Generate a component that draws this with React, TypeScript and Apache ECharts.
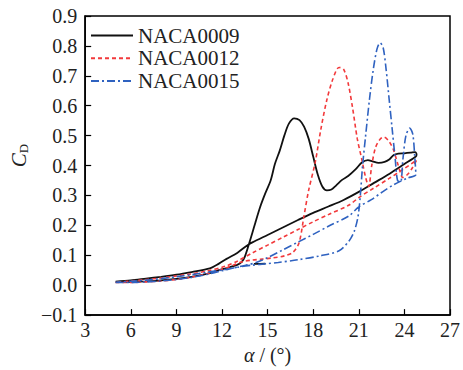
import React, { useEffect, useRef } from "react";
import * as echarts from "echarts";

// NACA0009 loop (angle of attack, drag coefficient)
const naca0009Alpha = [5.0, 6.0, 7.0, 8.0, 9.0, 10.0, 11.0, 11.8, 12.5, 13.0, 13.3, 13.5, 13.7, 14.0, 14.2, 14.5, 14.84, 15.2, 15.48, 15.8, 16.1, 16.4, 16.75, 17.1, 17.4, 17.7, 18.0, 18.3, 18.6, 18.9, 19.2, 19.5, 19.9, 20.3, 20.8, 21.2, 21.6, 21.9, 22.3, 22.7, 23.0, 23.3, 23.6, 24.0, 24.4, 24.7, 24.8, 24.75, 24.0, 23.0, 22.0, 21.0, 20.0, 19.0, 18.0, 17.0, 16.0, 15.0, 14.0, 13.66, 13.0, 12.3, 11.8, 11.2, 10.0, 9.0, 8.0, 7.0, 6.0, 5.0];
const naca0009Cd = [0.010, 0.011, 0.013, 0.016, 0.021, 0.028, 0.038, 0.050, 0.060, 0.068, 0.078, 0.095, 0.125, 0.175, 0.210, 0.260, 0.306, 0.350, 0.405, 0.450, 0.500, 0.540, 0.558, 0.552, 0.530, 0.490, 0.430, 0.370, 0.330, 0.317, 0.320, 0.333, 0.352, 0.365, 0.388, 0.410, 0.418, 0.414, 0.409, 0.412, 0.420, 0.435, 0.440, 0.441, 0.443, 0.445, 0.437, 0.430, 0.405, 0.372, 0.342, 0.312, 0.285, 0.263, 0.242, 0.218, 0.193, 0.168, 0.143, 0.133, 0.108, 0.088, 0.072, 0.056, 0.044, 0.035, 0.028, 0.022, 0.016, 0.012];
// short opening segment of the NACA0009 record
const naca0009StartAlpha = [14.85, 14.5, 14.1];
const naca0009StartCd = [0.072, 0.071, 0.071];

// NACA0012 loop
const naca0012Alpha = [5.0, 6.0, 7.0, 8.0, 9.0, 10.0, 11.0, 12.0, 12.8, 13.3, 14.0, 14.6, 15.3, 16.1, 16.65, 17.07, 17.39, 17.7, 18.13, 18.5, 18.9, 19.3, 19.7, 20.0, 20.3, 20.6, 20.9, 21.2, 21.45, 21.65, 21.85, 22.1, 22.4, 22.65, 23.0, 23.3, 23.6, 23.9, 24.2, 24.5, 24.8, 24.0, 23.0, 22.0, 21.0, 20.36, 19.0, 18.0, 17.0, 16.0, 15.0, 14.0, 13.0, 12.2, 11.0, 10.0, 9.0, 8.0, 7.0, 6.0, 5.0];
const naca0012Cd = [0.009, 0.009, 0.011, 0.014, 0.019, 0.027, 0.038, 0.053, 0.068, 0.078, 0.084, 0.087, 0.091, 0.098, 0.109, 0.142, 0.230, 0.317, 0.410, 0.520, 0.620, 0.690, 0.728, 0.722, 0.675, 0.590, 0.490, 0.420, 0.360, 0.330, 0.400, 0.460, 0.488, 0.495, 0.480, 0.450, 0.400, 0.360, 0.370, 0.390, 0.418, 0.390, 0.357, 0.325, 0.293, 0.268, 0.236, 0.212, 0.186, 0.160, 0.134, 0.108, 0.080, 0.063, 0.047, 0.038, 0.031, 0.024, 0.019, 0.014, 0.010];

// NACA0015 loop
const naca0015Alpha = [5.0, 6.0, 7.0, 8.0, 9.0, 10.0, 11.0, 12.0, 13.0, 14.0, 15.0, 15.7, 17.0, 18.45, 19.7, 20.36, 20.7, 20.95, 21.1, 21.25, 21.45, 21.7, 21.95, 22.2, 22.4, 22.6, 22.8, 23.0, 23.2, 23.4, 23.55, 23.75, 23.9, 24.1, 24.35, 24.55, 24.68, 24.75, 24.2, 23.3, 22.5, 21.8, 21.0, 20.36, 19.0, 18.0, 17.0, 16.0, 15.0, 14.2, 13.5, 12.5, 11.0, 10.0, 9.0, 8.0, 7.0, 6.0, 5.0];
const naca0015Cd = [0.009, 0.009, 0.011, 0.014, 0.019, 0.026, 0.036, 0.048, 0.060, 0.067, 0.072, 0.076, 0.085, 0.098, 0.115, 0.148, 0.180, 0.230, 0.300, 0.400, 0.500, 0.620, 0.720, 0.790, 0.810, 0.795, 0.720, 0.620, 0.520, 0.420, 0.350, 0.345, 0.420, 0.500, 0.525, 0.505, 0.430, 0.370, 0.358, 0.336, 0.310, 0.285, 0.262, 0.232, 0.197, 0.170, 0.144, 0.118, 0.092, 0.075, 0.066, 0.055, 0.043, 0.035, 0.028, 0.022, 0.017, 0.013, 0.010];

const seriesNames = ["NACA0009", "NACA0012", "NACA0015"];

const pairs = (a: number[], c: number[]) => a.map((x, i) => [x, c[i]]);

const FONT = "'Liberation Serif', 'Times New Roman', serif";

export default function App() {
  const ref = useRef<HTMLDivElement>(null);
  useEffect(() => {
    if (!ref.current) return;
    const chart = echarts.init(ref.current, undefined, { renderer: "svg" });
    const black = { color: "#111111", width: 1.8, type: "solid" as const };
    const red = { color: "#f2393b", width: 1.6, type: [4, 3] };
    const blue = { color: "#2f62c0", width: 1.6, type: [8, 3, 2, 3] };
    chart.setOption({
      animation: false,
      grid: {
        left: 77,
        right: 8,
        top: 16,
        bottom: 50,
        show: true,
        borderColor: "#000",
        borderWidth: 1.5,
        backgroundColor: "transparent",
      },
      legend: {
        data: seriesNames,
        orient: "vertical",
        left: 85,
        top: 20,
        itemWidth: 42,
        itemHeight: 14,
        itemGap: 1.7,
        itemStyle: { opacity: 0 },
        textStyle: { fontFamily: FONT, fontSize: 21, lineHeight: 20, color: "#222" },
      },
      xAxis: {
        type: "value",
        min: 3,
        max: 27,
        interval: 3,
        axisLine: { onZero: false, lineStyle: { color: "#000", width: 1.5 } },
        axisTick: { inside: true, length: 6, lineStyle: { color: "#000", width: 1.2 } },
        axisLabel: { fontFamily: FONT, fontSize: 20, color: "#222", margin: 5 },
        splitLine: { show: false },
        name: "{i|α} / (°)",
        nameLocation: "middle",
        nameGap: 28,
        nameTextStyle: {
          fontFamily: FONT,
          fontSize: 20,
          color: "#222",
          rich: { i: { fontFamily: FONT, fontSize: 20, fontStyle: "italic", color: "#222" } },
        },
      },
      yAxis: {
        type: "value",
        min: -0.1,
        max: 0.9,
        interval: 0.1,
        axisLine: { show: true, onZero: false, lineStyle: { color: "#000", width: 1.5 } },
        axisTick: { show: true, inside: true, length: 6, lineStyle: { color: "#000", width: 1.2 } },
        axisLabel: {
          fontFamily: FONT,
          fontSize: 20,
          color: "#222",
          margin: 8,
          formatter: (v: number) => v.toFixed(1).replace("-", "\u2212"),
        },
        splitLine: { show: false },
        name: "{c|C}{d|D}",
        nameLocation: "middle",
        nameGap: 50,
        nameRotate: 90,
        nameTextStyle: {
          padding: [0, 0, 0, 20],
          rich: {
            c: { fontFamily: FONT, fontSize: 21, fontStyle: "italic", color: "#222" },
            d: { fontFamily: FONT, fontSize: 13, color: "#222", padding: [10, 0, 0, 0] },
          },
        },
      },
      series: [
        {
          name: "NACA0009",
          type: "line",
          data: pairs(naca0009Alpha, naca0009Cd),
          symbol: "none",
          smooth: 0.3,
          lineStyle: black,
          itemStyle: { color: black.color },
        },
        {
          name: "NACA0009",
          type: "line",
          data: pairs(naca0009StartAlpha, naca0009StartCd),
          symbol: "none",
          lineStyle: black,
          itemStyle: { color: black.color },
        },
        {
          name: "NACA0012",
          type: "line",
          data: pairs(naca0012Alpha, naca0012Cd),
          symbol: "none",
          smooth: 0.3,
          lineStyle: red,
          itemStyle: { color: red.color },
        },
        {
          name: "NACA0015",
          type: "line",
          data: pairs(naca0015Alpha, naca0015Cd),
          symbol: "none",
          smooth: 0.3,
          lineStyle: blue,
          itemStyle: { color: blue.color },
        },
      ],
    });
    return () => chart.dispose();
  }, []);
  return (
    <div
      ref={ref}
      style={{ position: "fixed", left: 0, top: 0, width: 463, height: 370, background: "#fff" }}
    />
  );
}
